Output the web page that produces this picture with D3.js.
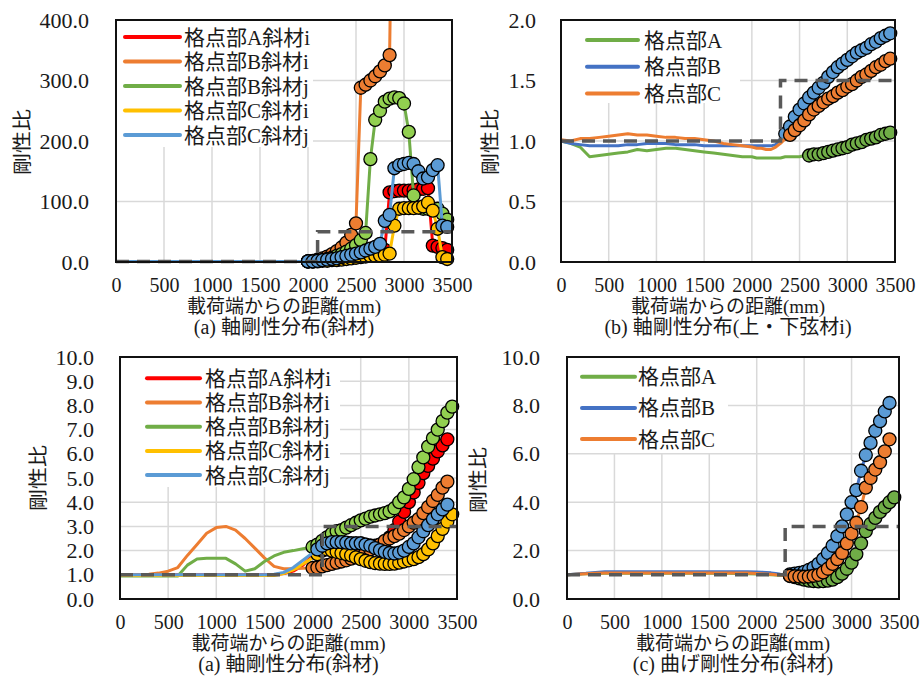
<!DOCTYPE html>
<html>
<head>
<meta charset="utf-8">
<script src="https://cdn.jsdelivr.net/npm/d3@7"></script>
<style>
body { margin: 0; background: #fff; }
svg text { font-family: "Liberation Serif", "Noto Sans CJK JP", serif; fill: #1a1a1a; }
</style>
</head>
<body>
<svg id="chart" width="922" height="683"></svg>
<script>
// Distance from loaded end (mm), shared by every series.
const dist = [0,100,200,300,400,500,600,700,800,900,1000,1100,1200,1300,1400,1500,1600,1700,1800,1900,2000,
  2050,2100,2150,2200,2250,2300,2350,2400,2450,2500,2550,2600,2650,2700,2750,2800,2850,2900,2950,3000,
  3050,3100,3150,3200,3250,3300,3350,3400,3450];
const xTicks = [0,500,1000,1500,2000,2500,3000,3500];

// (a) top: axial stiffness ratio, diagonals
const a1Names = ["格点部A斜材i","格点部B斜材i","格点部B斜材j","格点部C斜材i","格点部C斜材j"];
const a1AI = [1,1,1,1,1,1,1,1,1,1,1,1,1,1,1,1,1,1,1,1,1,
  1,2,3,4,5,6,8,9,10,12,13,14,15,16,18,20,115,117,118,118,118,119,120,121,122,27,25,23,20];
const a1BI = [1,1,1,1,1,1,1,1,1,1,1,1,1,1,1,1,1,1,1,1,1,
  2,4,6,9,13,18,24,32,45,64,288,293,300,307,315,325,342,900,null,null,null,null,null,null,null,null,null,null,null];
const a1BJ = [1,1,1,1,1,1,1,1,1,1,1,1,1,1,1,1,1,1,1,1,1,
  1,2,3,5,7,10,13,17,22,28,36,48,170,235,250,265,270,272,271,262,215,110,90,88,88,88,88,80,70];
const a1CI = [1,1,1,1,1,1,1,1,1,1,1,1,1,1,1,1,1,1,1,1,1,
  1,1,2,2,3,3,4,5,6,7,8,9,10,10,11,12,14,60,88,89,89,89,90,92,98,85,55,8,5];
const a1CJ = [1,1,1,1,1,1,1,1,1,1,1,1,1,1,1,1,1,1,1,1,1,
  1,2,3,4,5,6,8,10,12,14,16,19,22,25,30,68,78,155,160,162,164,162,150,138,140,152,160,60,58];
const a1RefX = [0,2100,2100,3500];
const a1RefY = [1,1,50,50];

// (b) axial stiffness ratio, chords
const bNames = ["格点部A","格点部B","格点部C"];
const bA = [1.00,0.98,0.95,0.87,0.88,0.89,0.90,0.91,0.93,0.92,0.93,0.94,0.94,0.93,0.92,0.91,0.90,0.89,0.88,0.87,0.87,
  0.86,0.86,0.86,0.86,0.86,0.86,0.87,0.87,0.87,0.87,0.88,0.88,0.89,0.89,0.90,0.91,0.92,0.93,0.94,0.95,
  0.97,0.98,0.99,1.01,1.02,1.03,1.05,1.06,1.07];
const bB = [1.00,0.98,0.97,0.96,0.96,0.96,0.96,0.97,0.97,0.98,0.98,0.98,0.97,0.97,0.97,0.96,0.96,0.96,0.96,0.96,0.96,
  0.96,0.96,0.96,0.96,0.97,1.02,1.06,1.12,1.20,1.26,1.31,1.36,1.40,1.44,1.48,1.53,1.57,1.61,1.64,1.67,
  1.70,1.73,1.75,1.77,1.80,1.82,1.85,1.87,1.89];
const bC = [1.01,1.00,1.02,1.02,1.03,1.04,1.05,1.06,1.05,1.05,1.04,1.03,1.03,1.02,1.02,1.01,1.00,0.98,0.97,0.96,0.95,
  0.94,0.94,0.93,0.93,0.95,0.98,1.02,1.05,1.09,1.13,1.17,1.22,1.26,1.29,1.32,1.35,1.37,1.40,1.42,1.45,
  1.47,1.50,1.53,1.55,1.58,1.61,1.63,1.66,1.68];
const bRefX = [0,2300,2300,3500];
const bRefY = [1,1,1.5,1.5];

// (a) bottom: axial stiffness ratio, diagonals
const a2AI = [1,1,1,1,1,1,1,1,1,1,1,1,1,1,1,1,1,1.05,1.15,1.4,1.8,
  2.0,2.1,2.2,2.25,2.3,2.3,2.3,2.3,2.3,2.3,2.25,2.2,2.2,2.25,2.35,2.55,2.85,3.2,3.6,4.0,4.4,4.8,5.2,5.5,5.8,6.1,6.35,6.6,null];
const a2BI = [1,1,1,1.02,1.07,1.15,1.3,1.8,2.25,2.72,2.95,3.0,2.85,2.5,2.1,1.7,1.35,1.25,1.25,1.27,1.28,
  1.3,1.35,1.4,1.45,1.5,1.55,1.6,1.67,1.75,1.85,1.95,2.05,2.15,2.25,2.4,2.5,2.6,2.7,2.85,3.0,3.15,3.3,3.55,3.8,4.05,4.3,4.6,4.85,null];
const a2BJ = [0.95,0.95,0.95,0.95,0.95,0.95,0.95,1.4,1.65,1.68,1.68,1.68,1.45,1.15,1.25,1.55,1.78,1.93,2.0,2.08,2.15,
  2.25,2.4,2.55,2.7,2.8,2.85,2.95,3.05,3.15,3.25,3.32,3.4,3.45,3.5,3.55,3.62,3.75,4.0,4.2,4.55,4.95,5.45,5.85,6.3,6.65,7.0,7.35,7.7,7.95];
const a2CI = [0.97,0.97,0.97,0.97,0.97,0.97,0.97,0.97,0.97,0.97,0.97,0.97,0.97,0.97,0.97,0.97,0.97,1.05,1.2,1.45,1.7,
  1.85,2.0,2.05,2.0,1.95,1.9,1.85,1.8,1.72,1.65,1.58,1.52,1.48,1.46,1.45,1.45,1.46,1.5,1.55,1.6,1.65,1.73,1.85,2.05,2.3,2.6,2.9,3.2,3.5];
const a2CJ = [1,1,1,1,1,1,1,1,1,1,1,1,1,1,1,1,1.02,1.1,1.3,1.6,1.9,
  2.05,2.2,2.3,2.35,2.35,2.35,2.33,2.3,2.3,2.3,2.25,2.2,2.1,2.02,1.95,1.9,1.88,1.92,2.0,2.15,2.3,2.55,2.8,3.05,3.3,3.5,3.7,3.9,null];
const a2RefX = [0,2100,2100,3500];
const a2RefY = [1,1,3,3];

// (c) bending stiffness ratio, diagonals
const cA = [1.00,1.02,1.04,1.05,1.06,1.06,1.06,1.06,1.06,1.06,1.06,1.06,1.06,1.06,1.06,1.06,1.06,1.06,1.05,1.04,1.03,
  1.02,1.01,1.00,0.99,0.98,0.97,0.95,0.90,0.85,0.80,0.76,0.74,0.73,0.74,0.76,0.80,0.90,1.05,1.25,1.50,1.85,2.30,2.80,3.10,3.35,3.60,3.80,4.00,4.20];
const cB = [1.00,1.03,1.06,1.10,1.13,1.13,1.13,1.13,1.13,1.13,1.13,1.13,1.13,1.13,1.13,1.13,1.13,1.13,1.13,1.13,1.12,
  1.11,1.10,1.08,1.05,1.02,1.00,1.02,1.05,1.08,1.12,1.20,1.30,1.45,1.65,1.90,2.20,2.60,3.00,3.50,4.00,4.50,5.30,5.95,6.45,6.95,7.35,7.75,8.10,null];
const cC = [1.00,1.02,1.04,1.06,1.07,1.07,1.07,1.07,1.07,1.07,1.07,1.07,1.07,1.07,1.07,1.07,1.07,1.07,1.07,1.07,1.05,
  1.04,1.03,1.02,1.00,0.99,0.97,0.96,0.94,0.93,0.92,0.93,0.96,1.00,1.10,1.25,1.45,1.65,1.90,2.30,2.70,3.15,3.80,4.60,5.00,5.35,5.65,6.10,6.60,null];
const cRefX = [0,2300,2300,3500];
const cRefY = [1,1,3,3];

// first distance carrying a marker, per series
const a1MarkFrom = [2000,2000,2000,2000,2000];
const bMarkFrom = [2600,2350,2400];
const a2MarkFrom = [2050,2000,2000,2050,2050];
const cMarkFrom = [2350,2350,2350];

const red = "#ff0000", orange = "#ed7d31", green = "#70ad47", lgreen = "#92d050",
      yellow = "#ffc000", lblue = "#5b9bd5", blue = "#4472c4";

const diagStyle = [
  {color: red, mark: red}, {color: orange, mark: orange}, {color: green, mark: lgreen},
  {color: yellow, mark: yellow}, {color: lblue, mark: lblue}
];
const chordStyle = [{color: green, mark: green}, {color: blue, mark: lblue}, {color: orange, mark: orange}];

const panels = [
  {left: 116, right: 452, top: 20, bottom: 262, yMax: 400, yTicks: [0,100,200,300,400],
   yLabelX: 89, yTitle: [22, 142], row: 285, caption: "(a) 軸剛性分布(斜材)",
   names: a1Names, values: [a1AI,a1BI,a1BJ,a1CI,a1CJ], from: a1MarkFrom, style: diagStyle,
   refX: a1RefX, refY: a1RefY,
   legend: {x: 116, y: 20, w: 197, h: 127, row0: 37, step: 24.5, l1: 125, l2: 180, tx: 184}},
  {left: 561, right: 895, top: 20, bottom: 262, yMax: 2, yTicks: [0,0.5,1,1.5,2],
   yLabelX: 536, yTitle: [490, 142], row: 285, caption: "(b) 軸剛性分布(上・下弦材i)",
   names: bNames, values: [bA,bB,bC], from: bMarkFrom, style: chordStyle,
   refX: bRefX, refY: bRefY,
   legend: {x: 561, y: 20, w: 179, h: 83, row0: 40, step: 26.7, l1: 587, l2: 638, tx: 644}},
  {left: 120, right: 457, top: 357, bottom: 599, yMax: 10, yTicks: [0,1,2,3,4,5,6,7,8,9,10],
   yLabelX: 94, yTitle: [38, 478], row: 622, caption: "(a) 軸剛性分布(斜材)",
   names: a1Names, values: [a2AI,a2BI,a2BJ,a2CI,a2CJ], from: a2MarkFrom, style: diagStyle,
   refX: a2RefX, refY: a2RefY,
   legend: {x: 120, y: 357, w: 220, h: 130, row0: 378.3, step: 24.2, l1: 147, l2: 200, tx: 205}},
  {left: 567, right: 899, top: 357, bottom: 599, yMax: 10, yTicks: [0,2,4,6,8,10],
   yLabelX: 540, yTitle: [478, 480], row: 622, caption: "(c) 曲げ剛性分布(斜材)",
   names: bNames, values: [cA,cB,cC], from: cMarkFrom, style: chordStyle,
   refX: cRefX, refY: cRefY,
   legend: {x: 567, y: 357, w: 161, h: 96, row0: 376.7, step: 31.2, l1: 582, l2: 635, tx: 638}}
];

const svg = d3.select("#chart");
const defs = svg.append("defs");

panels.forEach((p, idx) => {
  const x = d3.scaleLinear().domain([0, 3500]).range([p.left, p.right]);
  const y = d3.scaleLinear().domain([0, p.yMax]).range([p.bottom, p.top]);
  const g = svg.append("g");

  // gridlines
  g.append("g").selectAll("line").data(xTicks.slice(1, -1)).join("line")
    .attr("x1", d => x(d)).attr("x2", d => x(d))
    .attr("y1", p.top).attr("y2", p.bottom)
    .attr("stroke", "#d9d9d9").attr("stroke-width", 1.5);
  g.append("g").selectAll("line").data(p.yTicks.slice(1, -1)).join("line")
    .attr("x1", p.left).attr("x2", p.right)
    .attr("y1", d => y(d)).attr("y2", d => y(d))
    .attr("stroke", "#d9d9d9").attr("stroke-width", 1.5);

  const clipId = "clip" + idx;
  defs.append("clipPath").attr("id", clipId).append("rect")
    .attr("x", p.left - 14).attr("y", p.top)
    .attr("width", p.right - p.left + 28).attr("height", p.bottom - p.top + 14);
  const plot = g.append("g").attr("clip-path", "url(#" + clipId + ")");

  const line = d3.line().defined(d => d[1] != null).x(d => x(d[0])).y(d => y(d[1]));

  p.values.forEach((vals, k) => {
    const st = p.style[k];
    const pts = dist.map((d, i) => [d, vals[i]]);
    plot.append("path").datum(pts).attr("d", line)
      .attr("fill", "none").attr("stroke", st.color).attr("stroke-width", 3)
      .attr("stroke-linejoin", "round");
    plot.append("g").selectAll("circle")
      .data(pts.filter(d => d[1] != null && d[0] >= p.from[k]))
      .join("circle")
      .attr("cx", d => x(d[0])).attr("cy", d => y(d[1])).attr("r", 6.5)
      .attr("fill", st.mark).attr("stroke", "#000").attr("stroke-width", 1.3);
  });

  // reference (dashed)
  plot.append("path").datum(d3.zip(p.refX, p.refY)).attr("d", line)
    .attr("fill", "none").attr("stroke", "#595959").attr("stroke-width", 3.5)
    .attr("stroke-dasharray", "13,8");

  // legend
  const L = p.legend;
  const lg = g.append("g");
  lg.append("rect").attr("x", L.x).attr("y", L.y).attr("width", L.w).attr("height", L.h).attr("fill", "#fff");
  p.names.forEach((n, k) => {
    const yy = L.row0 + k * L.step;
    lg.append("line").attr("x1", L.l1).attr("x2", L.l2).attr("y1", yy).attr("y2", yy)
      .attr("stroke", p.style[k].color).attr("stroke-width", 4).attr("stroke-linecap", "round");
    lg.append("text").attr("x", L.tx).attr("y", yy).attr("dy", "0.36em")
      .attr("font-size", 21).text(n);
  });

  // frame
  g.append("rect").attr("x", p.left).attr("y", p.top)
    .attr("width", p.right - p.left).attr("height", p.bottom - p.top)
    .attr("fill", "none").attr("stroke", "#111").attr("stroke-width", 2);

  // y axis labels
  const ya = svg.append("g").attr("transform", "translate(" + p.yLabelX + ",0)")
    .call(d3.axisLeft(y).tickValues(p.yTicks).tickSize(0).tickPadding(0).tickFormat(d3.format(".1f")));
  ya.select(".domain").remove();
  ya.selectAll("text").attr("font-size", 20).attr("dy", "0.35em").attr("transform", "scale(1.1,1)");

  // x axis labels
  const xa = svg.append("g").attr("transform", "translate(0," + p.row + ")")
    .call(d3.axisBottom(x).tickValues(xTicks).tickSize(0).tickPadding(0).tickFormat(d3.format("d")));
  xa.select(".domain").remove();
  xa.selectAll("text").attr("font-size", 20).attr("y", 0).attr("dy", "0.35em");

  const cx = (p.left + p.right) / 2;
  svg.append("text").attr("x", cx).attr("y", p.row + 21)
    .attr("text-anchor", "middle").attr("dy", "0.35em").attr("font-size", 19)
    .text("載荷端からの距離(mm)");
  svg.append("text").attr("x", cx).attr("y", p.row + 42)
    .attr("text-anchor", "middle").attr("dy", "0.35em").attr("font-size", 20)
    .text(p.caption);
  svg.append("text").attr("transform", "translate(" + p.yTitle[0] + "," + p.yTitle[1] + ") rotate(-90) scale(1,0.9)")
    .attr("text-anchor", "middle").attr("dy", "0.35em").attr("font-size", 22)
    .text("剛性比");
});
</script>
</body>
</html>
